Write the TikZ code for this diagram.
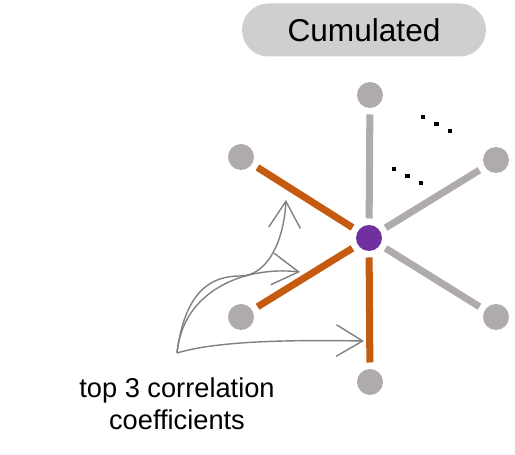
\documentclass[tikz,border=0pt]{standalone}
\usepackage{fontspec}
\setmainfont{Liberation Sans}
\definecolor{EdgeOrange}{RGB}{197, 90, 17}
\definecolor{EdgeGray}{RGB}{175, 171, 171}
\definecolor{HubPurple}{RGB}{112, 48, 160}
\definecolor{PillGray}{RGB}{208, 206, 206}
\definecolor{ArrowGray}{RGB}{128, 128, 128}
\usetikzlibrary{arrows.meta, positioning, shapes}

\begin{document}
\begin{tikzpicture}[x=0.02cm, y=-0.02cm,
    every node/.style={align=center},
    leaf/.style={circle, fill=EdgeGray, inner sep=0pt, minimum size=0.52cm},
    hub/.style={circle, fill=HubPurple, inner sep=0pt, minimum size=0.52cm},
    tie/.style={line width=4pt, shorten <=3.5pt, shorten >=3.5pt},
    pick/.style={tie, EdgeOrange},
    rest/.style={tie, EdgeGray},
    hint/.style={draw=ArrowGray, line width=0.8pt, -{Straight Barb[length=15pt, width=18pt]}},
    dot/.style={rectangle, fill=black, inner sep=0pt, minimum size=2.8pt}
]
\useasboundingbox (0,0) rectangle (515,455);
\node[fill=PillGray, rounded corners=0.53cm, minimum width=4.88cm, minimum height=1.06cm,
      font=\fontsize{18}{21}\selectfont] (title) at (364,30) {Cumulated};

\node[hub] (c) at (369,238) {};
\node[leaf] (top) at (370,95) {};
\node[leaf] (ul) at (241,157) {};
\node[leaf] (ur) at (496,160) {};
\node[leaf] (ll) at (241,317) {};
\node[leaf] (lr) at (496,317) {};
\node[leaf] (bot) at (370,382) {};
\draw[pick] (c) -- (ul);
\draw[pick] (c) -- (ll);
\draw[pick] (c) -- (bot);
\draw[rest] (c) -- (top);
\draw[rest] (c) -- (ur);
\draw[rest] (c) -- (lr);

% ellipses
\foreach \i in {0,1,2} {
  \node[dot] (da\i) at (423+13.5*\i,117+7*\i) {};
  \node[dot] (db\i) at (394+13.5*\i,169+7*\i) {};
}

\node[font=\fontsize{15.5}{18}\selectfont] (label) at (177,404) {top 3 correlation\\coefficients};
\coordinate (src) at (177,353);
\coordinate (t1) at (286,200);
\coordinate (t2) at (300,272);
\coordinate (t3) at (364,341);
\draw[hint] (src) .. controls (185,290) and (212,276) .. (240,276) .. controls (268,276) and (284,240) .. (t1);
\draw[hint] (src) .. controls (183,290) and (245,266) .. (t2);
\draw[hint] (src) .. controls (220,340) and (300,340) .. (t3);
\end{tikzpicture}
\end{document}
